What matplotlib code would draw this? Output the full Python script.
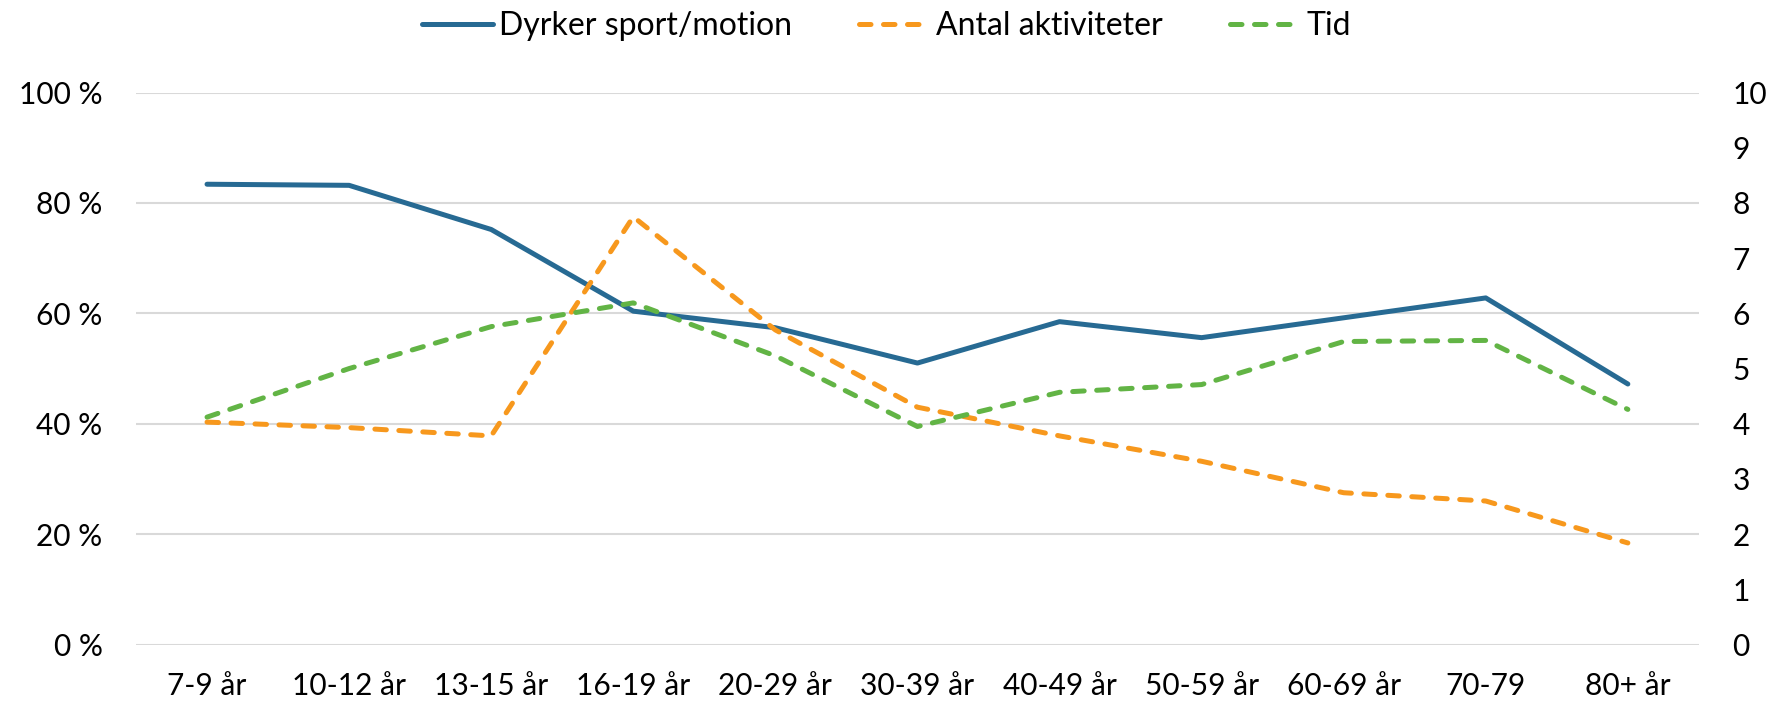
import matplotlib
matplotlib.use("Agg")
import matplotlib.pyplot as plt
import numpy as np

plt.rcParams['font.family'] = ['Lato', 'DejaVu Sans']

# aldersgrupper
kategorier = ['7-9 år', '10-12 år', '13-15 år', '16-19 år', '20-29 år', '30-39 år',
              '40-49 år', '50-59 år', '60-69 år', '70-79', '80+ år']
# andel der dyrker sport/motion (%)
dyrker = [83.4, 83.2, 75.2, 60.4, 57.4, 51.0, 58.5, 55.6, 59.2, 62.8, 47.2]
# gennemsnitligt antal aktiviteter
antal = [4.03, 3.93, 3.78, 7.75, 5.7, 4.3, 3.78, 3.32, 2.75, 2.6, 1.84]
# tid
tid = [4.12, 5.0, 5.76, 6.19, 5.23, 3.95, 4.57, 4.71, 5.49, 5.51, 4.26]

blaa = '#276A93'
orange = '#F7981D'
groen = '#62B445'

fig = plt.figure(figsize=(17.73, 7.07), dpi=100)
ax = fig.add_axes([0.0767, 0.0884, 0.8815, 0.7806])
ax2 = ax.twinx()

x = np.arange(len(kategorier))
lw = 3.6

ax.plot(x, dyrker, color=blaa, lw=lw, solid_capstyle='round', solid_joinstyle='round',
        label='Dyrker sport/motion', zorder=3)
ax2.plot(x, antal, color=orange, lw=lw, dashes=(2.3, 2.5), dash_capstyle='round',
         label='Antal aktiviteter')
ax2.plot(x, tid, color=groen, lw=lw, dashes=(2.3, 2.5), dash_capstyle='round',
         label='Tid')

ax.set_ylim(0, 100)
ax2.set_ylim(0, 10)
ax.set_xlim(-0.5, len(kategorier) - 0.5)
ax.set_yticks(np.arange(0, 101, 20))
ax.set_yticklabels([f'{v} %' for v in range(0, 101, 20)])
ax2.set_yticks(np.arange(0, 11, 1))
ax.set_xticks(x)
ax.set_xticklabels(kategorier)

ax.grid(axis='y', color='#D9D9D9', lw=1.5)
ax.set_axisbelow(True)
for a in (ax, ax2):
    for s in a.spines.values():
        s.set_visible(False)
    a.tick_params(length=0, labelsize=21.5, colors='black')
ax.tick_params(axis='y', pad=24)
ax.tick_params(axis='x', pad=20)
ax2.tick_params(axis='y', pad=24)

h1, lab1 = ax.get_legend_handles_labels()
h2, lab2 = ax2.get_legend_handles_labels()
fig.legend(h1 + h2, lab1 + lab2, loc='upper center', bbox_to_anchor=(0.5, 1.025), ncol=3,
           frameon=False, fontsize=23, handlelength=2.2, handletextpad=0.2, columnspacing=2.1)

fig.savefig('out.png', dpi=100)
